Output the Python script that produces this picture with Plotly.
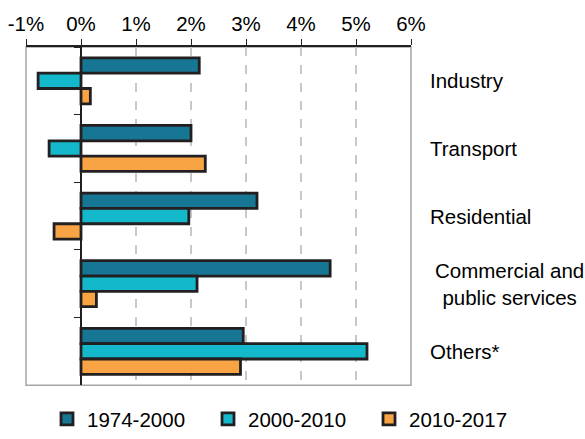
import plotly.graph_objects as go

categories = ["Industry", "Transport", "Residential", "Commercial and public services", "Others*"]
label_text = ["Industry", "Transport", "Residential", "Commercial and<br>public services", "Others*"]
series_names = ["1974-2000", "2000-2010", "2010-2017"]
v_1974_2000 = [2.15, 2.00, 3.20, 4.53, 2.95]
v_2000_2010 = [-0.78, -0.58, 1.96, 2.11, 5.20]
v_2010_2017 = [0.17, 2.26, -0.49, 0.28, 2.90]
x_ticks = [-1, 0, 1, 2, 3, 4, 5, 6]
x_tick_labels = ["-1%", "0%", "1%", "2%", "3%", "4%", "5%", "6%"]

colors = ["#177694", "#13b8cb", "#f9a444"]
values = [v_1974_2000, v_2000_2010, v_2010_2017]
FONT = "Liberation Sans, Arial, sans-serif"

W, H = 585, 439
PL, PR, PT, PB = 26, 411, 47, 394  # plot area in pixels

fig = go.Figure()
for name, vals, col in zip(series_names, values, colors):
    fig.add_trace(go.Bar(
        y=categories, x=vals, name=name, orientation="h",
        marker=dict(color=col, line=dict(color="#231f20", width=2.8)),
    ))

for cat, txt in zip(categories, label_text):
    multi = "<br>" in txt
    fig.add_annotation(
        x=1, xref="x domain", y=cat, yref="y", text=txt, showarrow=False,
        xanchor="left", align="center" if multi else "left",
        xshift=22 if multi else 17,
        font=dict(family=FONT, size=20.5, color="#000"),
    )

fig.add_shape(type="rect", xref="x domain", yref="y domain", x0=0, x1=1, y0=0, y1=1,
              line=dict(color="#a6a6a6", width=1.5), layer="below")

fig.update_layout(
    width=W, height=H,
    margin=dict(l=0, r=0, t=PT, b=0),
    paper_bgcolor="white", plot_bgcolor="white",
    barmode="group", bargap=0.32, bargroupgap=0,
    font=dict(family=FONT, size=20.5, color="#000"),
    showlegend=True,
    legend=dict(orientation="h", x=47 / W, xanchor="left",
                y=(H - 429) / (H - PT), yanchor="middle",
                entrywidth=116, font=dict(family=FONT, size=20.5, color="#000"),
                traceorder="normal", itemclick=False, bgcolor="rgba(0,0,0,0)"),
    xaxis=dict(side="top", range=[-1, 6], tickvals=x_ticks, ticktext=x_tick_labels,
               domain=[PL / W, PR / W], automargin=False,
               showgrid=True, gridcolor="#c8c8c8", griddash="dash", gridwidth=1.5,
               zeroline=False, showline=True, linecolor="#231f20", linewidth=2,
               ticks="outside", ticklen=6, tickcolor="#231f20", tickwidth=1,
               tickfont=dict(family=FONT, size=20.5, color="#000"), fixedrange=True),
    yaxis=dict(autorange="reversed", anchor="free",
               position=(PL + (PR - PL) / 7) / W,
               domain=[(H - PB) / (H - PT), 1], automargin=False,
               showline=True, linecolor="#231f20", linewidth=2,
               ticks="outside", tickson="boundaries", ticklen=6, tickcolor="#231f20",
               showticklabels=False, showgrid=False, fixedrange=True),
)

fig.write_html("out.html", config={"displayModeBar": False},
               post_script="document.body.style.margin='0';")
